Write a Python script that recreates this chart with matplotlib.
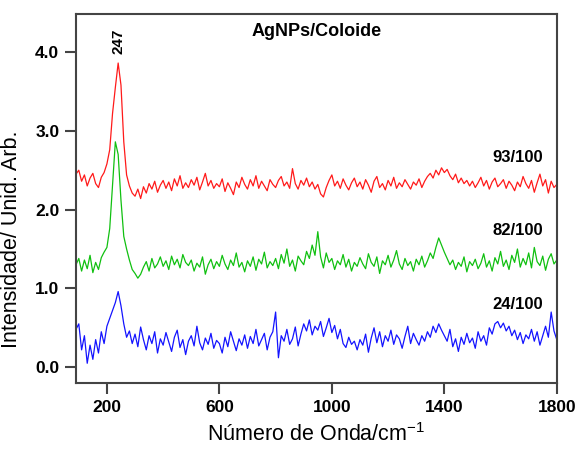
import numpy as np
import matplotlib
matplotlib.use("Agg")
import matplotlib.pyplot as plt

plt.rcParams['font.family'] = ['Liberation Sans', 'DejaVu Sans']

# wavenumber grid (cm-1) and spectra
wavenumber = np.arange(90, 1801, 10)

red_93 = [2.45,
    2.50, 2.36, 2.44, 2.30, 2.40, 2.46, 2.33, 2.28, 2.41, 2.47,
    2.58, 2.76, 3.22, 3.55, 3.86, 3.58, 2.86, 2.44, 2.30, 2.21,
    2.17, 2.26, 2.14, 2.29, 2.21, 2.33, 2.26, 2.36, 2.22, 2.31,
    2.37, 2.27, 2.35, 2.24, 2.39, 2.30, 2.43, 2.27, 2.34, 2.28,
    2.38, 2.31, 2.41, 2.25, 2.35, 2.46, 2.30, 2.37, 2.27, 2.33,
    2.29, 2.39, 2.23, 2.34, 2.27, 2.19, 2.35, 2.28, 2.41, 2.32,
    2.26, 2.38, 2.30, 2.43, 2.27, 2.36, 2.30, 2.24, 2.38, 2.32,
    2.28, 2.37, 2.42, 2.30, 2.35, 2.27, 2.52, 2.33, 2.26, 2.37,
    2.31, 2.40, 2.29, 2.35, 2.26, 2.32, 2.20, 2.16, 2.28, 2.37,
    2.44, 2.30, 2.36, 2.27, 2.39, 2.31, 2.25, 2.34, 2.40, 2.29,
    2.35, 2.26, 2.38, 2.31, 2.22, 2.36, 2.42, 2.28, 2.33, 2.25,
    2.37, 2.30, 2.41, 2.27, 2.34, 2.29, 2.38, 2.32, 2.26, 2.35,
    2.31, 2.39, 2.28, 2.36, 2.42, 2.46, 2.40, 2.50, 2.44, 2.53,
    2.47, 2.51, 2.43, 2.38, 2.45, 2.34, 2.40, 2.33, 2.37, 2.30,
    2.36, 2.28, 2.34, 2.41, 2.30, 2.37, 2.26, 2.35, 2.40, 2.29,
    2.33, 2.38, 2.27, 2.36, 2.31, 2.24, 2.35, 2.29, 2.42, 2.33,
    2.27, 2.37, 2.22, 2.34, 2.45, 2.30, 2.38, 2.21, 2.36, 2.28,
    2.32]

green_82 = [1.30,
    1.38, 1.22, 1.36, 1.25, 1.42, 1.20, 1.33, 1.24, 1.39, 1.46,
    1.52, 1.76, 2.30, 2.86, 2.70, 2.12, 1.66, 1.50, 1.36, 1.24,
    1.19, 1.13, 1.18, 1.27, 1.34, 1.22, 1.38, 1.26, 1.31, 1.40,
    1.28, 1.35, 1.24, 1.41, 1.30, 1.37, 1.26, 1.43, 1.33, 1.29,
    1.36, 1.22, 1.32, 1.27, 1.40, 1.18, 1.30, 1.37, 1.25, 1.34,
    1.28, 1.42, 1.31, 1.24, 1.36, 1.29, 1.45, 1.27, 1.33, 1.21,
    1.35, 1.28, 1.40, 1.23, 1.37, 1.31, 1.46, 1.26, 1.34, 1.29,
    1.38, 1.25, 1.43, 1.32, 1.50, 1.28, 1.36, 1.22, 1.41, 1.35,
    1.30, 1.47, 1.38, 1.55, 1.42, 1.72, 1.40, 1.26, 1.45, 1.33,
    1.38, 1.24, 1.35, 1.30, 1.43, 1.27, 1.37, 1.22, 1.33, 1.28,
    1.39, 1.31, 1.25, 1.44, 1.33, 1.28, 1.40, 1.19, 1.35, 1.30,
    1.42, 1.27, 1.36, 1.48, 1.31, 1.24, 1.38, 1.29, 1.34, 1.22,
    1.37, 1.30, 1.41, 1.27, 1.35, 1.45, 1.38, 1.52, 1.64, 1.55,
    1.46, 1.38, 1.30, 1.36, 1.24, 1.33, 1.28, 1.40, 1.21, 1.34,
    1.29, 1.37, 1.25, 1.32, 1.44, 1.27, 1.35, 1.22, 1.39, 1.31,
    1.47, 1.28, 1.36, 1.24, 1.42, 1.33, 1.50, 1.27, 1.38, 1.30,
    1.45, 1.26, 1.52, 1.34, 1.29, 1.41, 1.23, 1.37, 1.44, 1.31,
    1.36]

blue_24 = [0.48,
    0.55, 0.22, 0.40, 0.05, 0.28, 0.10, 0.35, 0.18, 0.45, 0.30,
    0.52, 0.62, 0.72, 0.82, 0.96, 0.78, 0.55, 0.38, 0.46, 0.30,
    0.42, 0.26, 0.51, 0.35, 0.22, 0.40, 0.30, 0.45, 0.18, 0.36,
    0.28, 0.44, 0.32, 0.20, 0.38, 0.47, 0.25, 0.35, 0.16, 0.33,
    0.40, 0.27, 0.52, 0.31, 0.22, 0.37, 0.29, 0.43, 0.24, 0.34,
    0.30, 0.18, 0.38, 0.26, 0.45, 0.33, 0.21, 0.36, 0.28, 0.41,
    0.24, 0.39, 0.30, 0.48, 0.27, 0.35, 0.43, 0.22, 0.38, 0.45,
    0.70, 0.12, 0.40, 0.33, 0.48, 0.29, 0.36, 0.51, 0.27, 0.42,
    0.55, 0.46, 0.60, 0.41, 0.52, 0.47, 0.58, 0.39, 0.50, 0.62,
    0.44, 0.53, 0.36, 0.48, 0.30, 0.25, 0.38, 0.29, 0.33, 0.22,
    0.35, 0.28, 0.42, 0.19, 0.37, 0.50, 0.31, 0.45, 0.26, 0.40,
    0.33, 0.47, 0.29, 0.41, 0.36, 0.24, 0.39, 0.52, 0.30, 0.43,
    0.35, 0.28, 0.40, 0.33, 0.45, 0.38, 0.52, 0.44, 0.55, 0.47,
    0.40, 0.33, 0.48, 0.26, 0.36, 0.20, 0.38, 0.29, 0.43, 0.31,
    0.37, 0.24, 0.45, 0.33, 0.40, 0.28, 0.50, 0.42, 0.55, 0.58,
    0.50, 0.56, 0.46, 0.52, 0.40, 0.47, 0.35, 0.44, 0.30, 0.41,
    0.36, 0.48, 0.33, 0.45, 0.28, 0.40, 0.52, 0.38, 0.70, 0.46,
    0.35]

series_labels = ['93/100', '82/100', '24/100']
label_y = [2.66, 1.74, 0.80]
x_ticks = [200, 600, 1000, 1400, 1800]
y_ticks = [0.0, 1.0, 2.0, 3.0, 4.0]

fig = plt.figure(figsize=(5.8, 4.57), dpi=100)
ax = fig.add_axes([0.131, 0.162, 0.829, 0.807])

ax.plot(wavenumber, red_93, color='#ff1a1a', linewidth=0.9)
ax.plot(wavenumber, green_82, color='#10c010', linewidth=0.9)
ax.plot(wavenumber, blue_24, color='#1414ff', linewidth=0.9)

for lab, yy in zip(series_labels, label_y):
    ax.text(1750, yy, lab, ha='right', va='center', fontsize=12, fontweight='bold')

ax.text(240, 3.97, '247', rotation=90, ha='center', va='bottom',
        fontsize=11, fontweight='bold')
ax.text(0.50, 0.975, 'AgNPs/Coloide', transform=ax.transAxes, ha='center', va='top',
        fontsize=13, fontweight='bold')

ax.set_xlim(90, 1800)
ax.set_ylim(-0.2, 4.48)
ax.set_xticks(x_ticks)
ax.set_yticks(y_ticks)
ax.set_yticklabels(['%.1f' % v for v in y_ticks])
for lab in ax.get_xticklabels() + ax.get_yticklabels():
    lab.set_fontweight('bold')
ax.tick_params(direction='out', length=8, width=1.5, labelsize=12.5, color='#444444', pad=4)
for sp in ax.spines.values():
    sp.set_linewidth(1.5)
    sp.set_color('#444444')

ax.set_xlabel('Número de Onda/cm$^{\\mathregular{-1}}$', fontsize=15.5, labelpad=6)
ax.set_ylabel('Intensidade/ Unid. Arb.', fontsize=15.5)
ax.yaxis.set_label_coords(-0.112, 0.39)

fig.savefig('out.png', dpi=100)
